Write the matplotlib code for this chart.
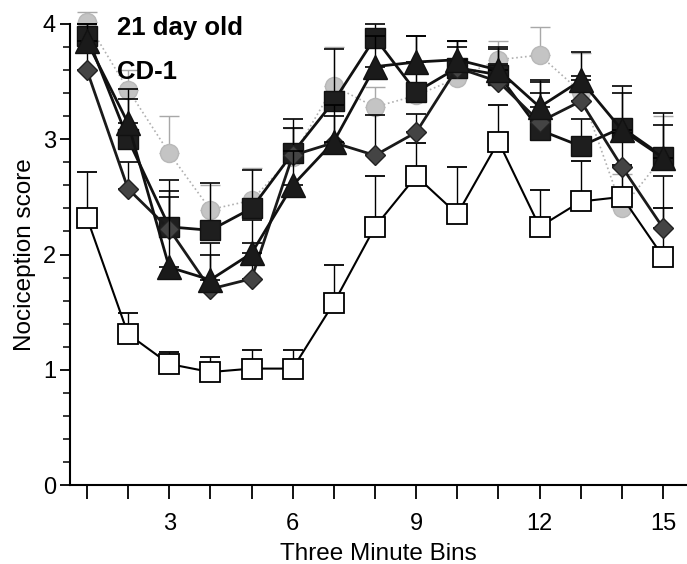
import numpy as np
import matplotlib.pyplot as plt

plt.rcParams['font.family'] = ['Liberation Sans', 'DejaVu Sans']

# Bins 1..15
bins = np.arange(1, 16)

# Open squares
open_sq = [2.32, 1.31, 1.05, 0.98, 1.01, 1.01, 1.58, 2.24, 2.68, 2.35, 2.98, 2.24, 2.46, 2.50, 1.98]
open_sq_top = [2.72, 1.49, 1.15, 1.11, 1.17, 1.17, 1.91, 2.68, 2.97, 2.76, 3.30, 2.56, 2.81, 2.78, 2.40]

# Black squares
black_sq = [3.90, 3.00, 2.24, 2.21, 2.40, 2.88, 3.33, 3.88, 3.41, 3.62, 3.56, 3.08, 2.94, 3.10, 2.85]
black_sq_top = [4.00, 3.44, 2.65, 2.62, 2.73, 3.18, 3.78, 4.00, 3.90, 3.85, 3.80, 3.50, 3.18, 3.46, 3.23]

# Triangles
triangle = [3.85, 3.14, 1.89, 1.78, 2.01, 2.60, 2.98, 3.63, 3.67, 3.69, 3.60, 3.28, 3.51, 3.08, 2.84]
triangle_top = [4.00, 3.35, 2.55, 2.10, 2.30, 2.90, 3.30, 3.90, 3.90, 3.85, 3.78, 3.51, 3.76, 3.40, 3.12]

# Diamonds
diamond = [3.60, 2.57, 2.22, 1.70, 1.79, 2.86, 2.97, 2.86, 3.06, 3.62, 3.50, 3.15, 3.33, 2.76, 2.23]
diamond_top = [3.75, 2.80, 2.50, 2.00, 2.10, 3.10, 3.20, 3.21, 3.22, 3.80, 3.65, 3.40, 3.55, 3.05, 2.68]

# Light gray circles
gray_circ = [4.02, 3.43, 2.88, 2.39, 2.47, 2.85, 3.46, 3.28, 3.38, 3.53, 3.69, 3.73, 3.41, 2.40, 2.85]
gray_circ_top = [4.10, 3.60, 3.20, 2.60, 2.75, 3.10, 3.80, 3.45, 3.60, 3.85, 3.85, 3.97, 3.75, 2.70, 3.20]


def upper_err(vals, tops):
    vals = np.array(vals)
    return [np.zeros_like(vals), np.array(tops) - vals]


fig = plt.figure(figsize=(6.87, 5.64), dpi=100)
ax = fig.add_axes([70 / 687, 1 - 485 / 564, 617 / 687, (485 - 24) / 564])

# gray circles (drawn first, lowest)
ax.errorbar(bins, gray_circ, yerr=upper_err(gray_circ, gray_circ_top),
            fmt='o', ls=':', lw=1.2, color='#b0b0b0', ms=13,
            mfc='#c4c4c4', mec='#b8b8b8', ecolor='#a8a8a8', elinewidth=1,
            capsize=7, capthick=1, clip_on=False, zorder=2)

# open squares
ax.errorbar(bins, open_sq, yerr=upper_err(open_sq, open_sq_top),
            fmt='s', ls='-', lw=1.5, color='black', ms=14.5,
            mfc='white', mec='black', mew=1.3, ecolor='black', elinewidth=1,
            capsize=7, capthick=1.2, clip_on=False, zorder=3)

# black squares
ax.errorbar(bins, black_sq, yerr=upper_err(black_sq, black_sq_top),
            fmt='s', ls='-', lw=2, color='#111111', ms=14,
            mfc='#1e1e1e', mec='#111111', ecolor='black', elinewidth=1,
            capsize=7, capthick=1.2, clip_on=False, zorder=4)

# diamonds
ax.errorbar(bins, diamond, yerr=upper_err(diamond, diamond_top),
            fmt='D', ls='-', lw=2, color='#1a1a1a', ms=10,
            mfc='#444444', mec='#222222', ecolor='black', elinewidth=1,
            capsize=7, capthick=1.2, clip_on=False, zorder=5)

# triangles
ax.errorbar(bins, triangle, yerr=upper_err(triangle, triangle_top),
            fmt='^', ls='-', lw=2, color='#111111', ms=17,
            mfc='#1a1a1a', mec='#111111', ecolor='black', elinewidth=1,
            capsize=7, capthick=1.2, clip_on=False, zorder=6)

ax.set_xlim(0.59, 15.58)
ax.set_ylim(0, 4)

ax.spines['top'].set_visible(False)
ax.spines['right'].set_visible(False)
ax.spines['left'].set_linewidth(1.5)
ax.spines['bottom'].set_linewidth(1.5)

ax.set_xticks(bins)
ax.set_xticklabels([str(b) if b % 3 == 0 else '' for b in bins])
ax.set_yticks([0, 1, 2, 3, 4])
ax.set_yticks(np.arange(0, 4.01, 0.2), minor=True)
ax.tick_params(axis='x', direction='out', length=10, width=1.3, pad=10, labelsize=17)
ax.tick_params(axis='y', which='major', direction='out', length=7, width=1.3, pad=3, labelsize=17)
ax.tick_params(axis='y', which='minor', direction='out', length=5, width=1.1)

ax.set_xlabel('Three Minute Bins', fontsize=17.5, labelpad=6)
ax.set_ylabel('Nociception score', fontsize=17.5, labelpad=5)

fig.text(117 / 687, 1 - 28 / 564, '21 day old', fontsize=18.5, fontweight='bold',
         va='center', ha='left')
fig.text(117 / 687, 1 - 72 / 564, 'CD-1', fontsize=18.5, fontweight='bold',
         va='center', ha='left')

fig.savefig('out.png', dpi=100)
